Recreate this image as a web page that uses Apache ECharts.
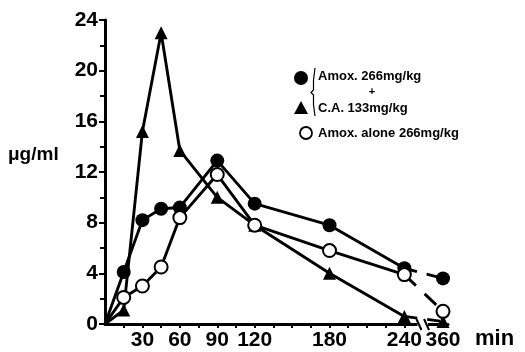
<!DOCTYPE html>
<html><head><meta charset="utf-8">
<script src="https://cdn.jsdelivr.net/npm/echarts@6/dist/echarts.min.js"></script>
<style>html,body{margin:0;padding:0;background:#fff}#c{width:525px;height:352px}</style>
</head><body><div id="c"></div>
<script>
// time points (min) before the axis break
const times = [0, 15, 30, 45, 60, 90, 120, 180, 240];
// 360 min is drawn after the axis break, at this axis position
const lateTime = 271;
const lateLabel = '360';
const xLabelValues = [30, 60, 90, 120, 180, 240];
const xTickValues = [15, 30, 45, 60, 75, 90, 105, 120, 135, 150, 165, 180, 195, 210, 225, 240];
const yTicks = [0, 4, 8, 12, 16, 20, 24];

// Amox. 266 mg/kg + C.A. 133 mg/kg : amoxicillin (filled circles)
const amoxCA = [0, 4.1, 8.2, 9.1, 9.2, 12.9, 9.5, 7.8, 4.4];
const amoxCA360 = 3.6;
// C.A. (triangles)
const ca = [0, 1.1, 15.2, 23.0, 13.7, 10.0, 7.8, 4.0, 0.6];
const ca360 = 0.2;
// Amox. alone 266 mg/kg (open circles)
const amoxAlone = [0, 2.1, 3.0, 4.5, 8.4, 11.8, 7.8, 5.8, 3.9];
const amoxAlone360 = 1.0;

const FONT = 'Liberation Sans';
const chart = echarts.init(document.getElementById('c'), null, {renderer: 'canvas'});

function pts(vals) {
  return vals.map((v, i) => i === 0 ? {value: [times[i], v], symbol: 'none'} : [times[i], v]);
}
function mainSeries(vals, symbol, size, filled) {
  return {
    type: 'line', data: pts(vals), symbol: symbol, symbolSize: size,
    showAllSymbol: true,
    lineStyle: {color: '#000', width: 2.9},
    itemStyle: {color: filled ? '#000' : '#fff', borderColor: '#000', borderWidth: filled ? 0 : 2},
    emphasis: {disabled: true}, animation: false, z: filled ? 3 : 4
  };
}
function lateSeries(v240, v360, symbol, size, filled, dash) {
  return {
    type: 'line',
    data: [{value: [240, v240], symbol: 'none'}, [lateTime, v360]],
    symbol: symbol, symbolSize: size,
    lineStyle: {color: '#000', width: 2.9, type: dash},
    itemStyle: {color: filled ? '#000' : '#fff', borderColor: '#000', borderWidth: filled ? 0 : 2},
    emphasis: {disabled: true}, animation: false, z: 2
  };
}

const option = {
  backgroundColor: '#fff',
  animation: false,
  grid: {left: 105, right: 77, top: 20, bottom: 28, containLabel: false},
  xAxis: {
    type: 'value', min: 0, max: 275,
    axisLine: {show: true, lineStyle: {color: '#000', width: 3}},
    axisTick: {show: true, length: 4, lineStyle: {color: '#000', width: 2},
      customValues: xTickValues.concat([lateTime])},
    axisLabel: {show: true, customValues: xLabelValues.concat([lateTime]),
      formatter: v => (v === lateTime ? lateLabel : String(v)),
      color: '#000', fontFamily: FONT, fontWeight: 'bold', fontSize: 21, margin: 6},
    splitLine: {show: false}
  },
  yAxis: {
    type: 'value', min: yTicks[0], max: yTicks[yTicks.length - 1], interval: 4,
    axisLine: {show: true, lineStyle: {color: '#000', width: 3}},
    axisTick: {show: true, length: 6, lineStyle: {color: '#000', width: 2}},
    minorTick: {show: true, splitNumber: 2, length: 5, lineStyle: {color: '#000', width: 2}},
    axisLabel: {color: '#000', fontFamily: FONT, fontWeight: 'bold', fontSize: 21, margin: 7},
    splitLine: {show: false}
  },
  series: [
    lateSeries(amoxCA[8], amoxCA360, 'circle', 14, true, [13, 10]),
    lateSeries(ca[8], ca360, 'triangle', 13, true, [13, 10]),
    lateSeries(amoxAlone[8], amoxAlone360, 'circle', 13, false, [16, 12]),
    mainSeries(ca, 'triangle', 13, true),
    mainSeries(amoxCA, 'circle', 14, true),
    mainSeries(amoxAlone, 'circle', 13, false)
  ]
};
chart.setOption(option);

// axis break + texts + legend
const y0 = chart.convertToPixel({gridIndex: 0}, [0, 0])[1];
const bx1 = chart.convertToPixel({gridIndex: 0}, [250.5, 0])[0];
const bx2 = chart.convertToPixel({gridIndex: 0}, [259, 0])[0];
chart.setOption({
  graphic: [
    {type: 'rect', shape: {x: bx1, y: y0 - 3, width: bx2 - bx1, height: 6}, style: {fill: '#fff'}, z: 20},
    {type: 'line', shape: {x1: bx1 - 1, y1: y0 - 5, x2: bx1 + 4, y2: y0 + 6}, style: {stroke: '#000', lineWidth: 2}, z: 21},
    {type: 'line', shape: {x1: bx2 - 4, y1: y0 - 5, x2: bx2 + 1, y2: y0 + 6}, style: {stroke: '#000', lineWidth: 2}, z: 21},
    {type: 'text', x: 8, y: 155, style: {text: 'μg/ml', fill: '#000', font: 'bold 19px "' + FONT + '"', textVerticalAlign: 'middle'}, z: 10},
    {type: 'text', x: 475, y: 339, style: {text: 'min', fill: '#000', font: 'bold 22px "' + FONT + '"', textVerticalAlign: 'middle'}, z: 10},
    // legend
    {type: 'circle', shape: {cx: 301, cy: 78, r: 7}, style: {fill: '#000'}, z: 10},
    {type: 'polygon', shape: {points: [[301, 101], [294, 114], [308, 114]]}, style: {fill: '#000'}, z: 10},
    {type: 'circle', shape: {cx: 306, cy: 133, r: 6}, style: {fill: '#fff', stroke: '#000', lineWidth: 1.8}, z: 10},
    {type: 'polyline', shape: {points: [[315, 68], [313.5, 80], [313.5, 90], [311, 92.5], [313.5, 95], [313.5, 105], [315, 116]]}, style: {stroke: '#000', lineWidth: 1.2, fill: null}, z: 10},
    {type: 'text', x: 318, y: 76, style: {text: 'Amox. 266mg/kg', fill: '#000', font: 'bold 13px "' + FONT + '"', textVerticalAlign: 'middle'}, z: 10},
    {type: 'text', x: 372, y: 92, style: {text: '+', fill: '#000', font: 'bold 11px "' + FONT + '"', textAlign: 'center', textVerticalAlign: 'middle'}, z: 10},
    {type: 'text', x: 318, y: 108, style: {text: 'C.A. 133mg/kg', fill: '#000', font: 'bold 13px "' + FONT + '"', textVerticalAlign: 'middle'}, z: 10},
    {type: 'text', x: 318, y: 133, style: {text: 'Amox. alone 266mg/kg', fill: '#000', font: 'bold 13px "' + FONT + '"', textVerticalAlign: 'middle'}, z: 10}
  ]
});
</script>
</body></html>
